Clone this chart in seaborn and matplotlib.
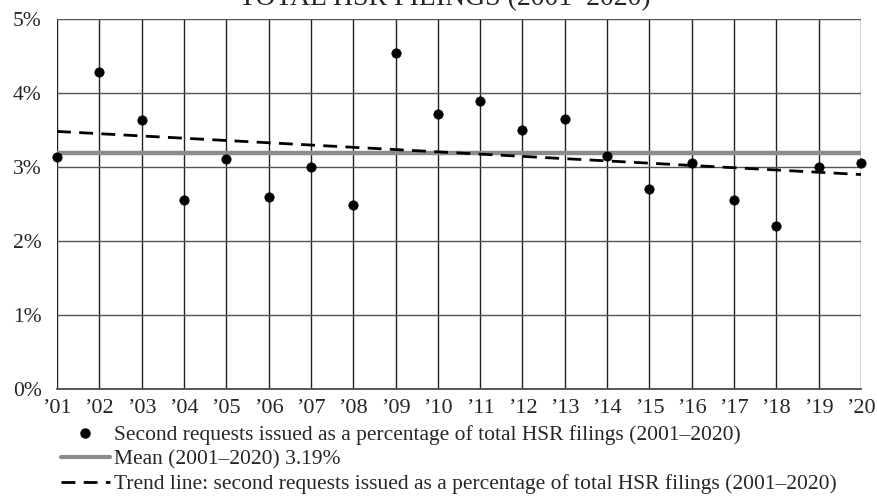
import numpy as np
import pandas as pd
import matplotlib
matplotlib.use("Agg")
import matplotlib.pyplot as plt
import seaborn as sns
from matplotlib.lines import Line2D

years = list(range(2001, 2021))
year_labels = ["\u2019" + str(y)[2:] for y in years]
pct_second_requests = [3.13, 4.29, 3.63, 2.56, 3.11, 2.59, 3.00, 2.49, 4.54, 3.71,
                       3.89, 3.50, 3.65, 3.15, 2.70, 3.05, 2.55, 2.20, 3.00, 3.05]
mean_value = 3.19

df = pd.DataFrame({"year": years, "pct": pct_second_requests})

sns.set_theme(style="white")
plt.rcParams["font.family"] = ["Liberation Serif", "DejaVu Serif"]

fig = plt.figure(figsize=(8.78, 4.97), dpi=100)
ax = fig.add_axes([57 / 878, 1 - 389 / 497, 804 / 878, 370 / 497])

# grid / axes
ax.set_xlim(2001, 2020)
ax.set_ylim(0, 5)
ax.set_xticks(years)
ax.set_xticklabels(year_labels, fontsize=16)
ax.set_yticks(range(0, 6))
ax.set_yticklabels([f"{v}%" for v in range(0, 6)], fontsize=15.5)
ax.grid(True, axis="x", color="#222222", linewidth=1.0)
ax.grid(True, axis="y", color="#555555", linewidth=1.0)
ax.tick_params(axis="x", length=0, pad=7.5)
ax.tick_params(axis="y", length=0, pad=11)
for s in ax.spines.values():
    s.set_visible(False)
ax.spines["bottom"].set_visible(True)
ax.spines["bottom"].set_color("#444444")
ax.set_axisbelow(True)

# mean line
ax.axhline(mean_value, color="#8c8c8c", linewidth=3.2, zorder=2)

# trend line from linear fit
coef = np.polyfit(df["year"], df["pct"], 1)
df["trend"] = np.polyval(coef, df["year"])
sns.lineplot(data=df, x="year", y="trend", ax=ax, color="black", linewidth=2,
             linestyle=(0, (5, 3)), zorder=3)

sns.scatterplot(data=df, x="year", y="pct", ax=ax, color="black", s=45,
                edgecolor="black", zorder=4, clip_on=False)
ax.set_xlabel("")
ax.set_ylabel("")

fig.text(445 / 878, 1 - 5 / 497, "TOTAL HSR FILINGS (2001–2020)", ha="center",
         va="baseline", fontsize=20)

handles = [
    Line2D([], [], marker="o", color="black", linestyle="none", markersize=6.5),
    Line2D([], [], color="#8c8c8c", linewidth=3),
    Line2D([], [], color="black", linewidth=2, linestyle=(0, (5, 3))),
]
labels = [
    "Second requests issued as a percentage of total HSR filings (2001–2020)",
    "Mean (2001–2020) 3.19%",
    "Trend line: second requests issued as a percentage of total HSR filings (2001–2020)",
]
fig.legend(handles, labels, loc="upper left", bbox_to_anchor=(61 / 878, 1 - 425 / 497),
           frameon=False, fontsize=15.5, handlelength=2.27, handletextpad=0.19,
           labelspacing=0.21, borderaxespad=0, borderpad=0)

fig.savefig("out.png", dpi=100)
